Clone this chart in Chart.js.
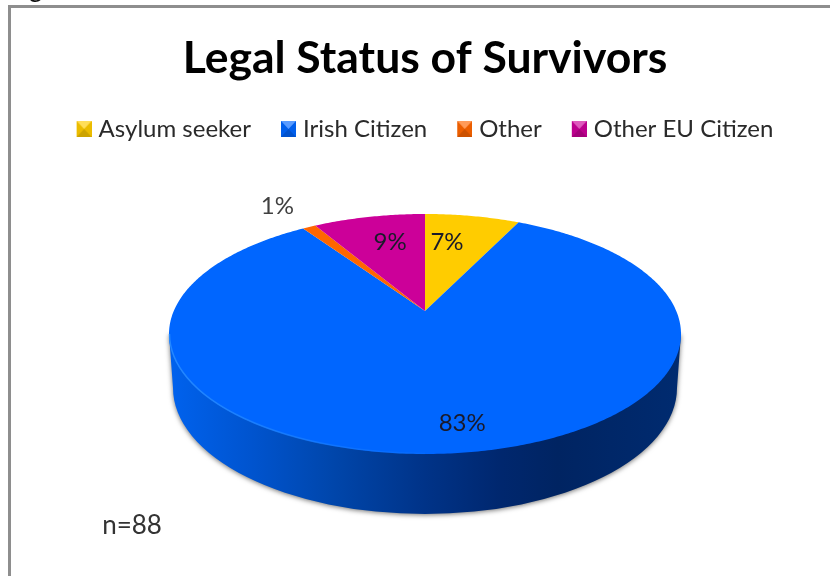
<!DOCTYPE html>
<html>
<head>
<meta charset="utf-8">
<style>
  html, body { margin: 0; padding: 0; background: #fff; overflow: hidden; }
  canvas { display: block; }
</style>
<script src="https://cdn.jsdelivr.net/npm/chart.js@4"></script>
</head>
<body>
<canvas id="pie" width="830" height="576"></canvas>
<script>
// values, the labels round them
const categories = ['Asylum seeker', 'Irish Citizen', 'Other', 'Other EU Citizen'];
const shares = [7.2, 83.3, 1.0, 8.5];
const sliceColors = ['#ffcc00', '#0066ff', '#ff6600', '#cc0099'];
const sampleNote = 'n=88';

// tilted disc: half axes of the top face, and how far the pie centre sits above the face centre
const halfWide = 256, halfHigh = 120, centreLift = -23;
const tilt = centreLift / halfHigh;
const squeezedWide = halfWide * Math.sqrt(1 - tilt * tilt);

// unit circle -> tilted disc (a perspective map, so the tip of the wedges stays off centre)
function project(el, angle, r) {
  const u = r * Math.cos(angle), v = r * Math.sin(angle);
  const d = 1 + tilt * v;
  return { x: el.x + squeezedWide * u / d, y: el.y + (halfHigh * v + centreLift) / d };
}

// 20 wide so the 15px square sits close to the legend text
function bevelMarker(color) {
  const c = document.createElement('canvas');
  c.width = 20; c.height = 16;
  const g = c.getContext('2d');
  g.translate(5, 0);
  g.fillStyle = color;
  g.fillRect(0, 0, 15, 16);
  // top facet light, bottom facet dark
  g.fillStyle = 'rgba(255,255,255,.35)';
  g.beginPath(); g.moveTo(0, 0); g.lineTo(15, 0); g.lineTo(7.5, 8); g.fill();
  g.fillStyle = 'rgba(0,0,0,.2)';
  g.beginPath(); g.moveTo(0, 16); g.lineTo(15, 16); g.lineTo(7.5, 8); g.fill();
  g.fillStyle = 'rgba(0,0,0,.08)';
  g.beginPath(); g.moveTo(0, 0); g.lineTo(0, 16); g.lineTo(7.5, 8); g.moveTo(15, 0); g.lineTo(15, 16); g.lineTo(7.5, 8); g.fill();
  return c;
}

const tiltedPie = {
  id: 'tiltedPie',
  beforeDraw(chart) {
    const ctx = chart.ctx;
    ctx.save();
    ctx.fillStyle = '#fff';
    ctx.fillRect(0, 0, 830, 576);
    // frame of the pasted picture, and the tail of the caption above it
    ctx.fillStyle = '#8e8e8e';
    ctx.fillRect(8, 5, 822, 3);
    ctx.fillRect(8, 5, 3, 571);
    ctx.fillStyle = '#111';
    ctx.font = '26px Lato';
    ctx.textBaseline = 'alphabetic';
    ctx.fillText('Figure', 8, -3);
    ctx.restore();
  },
  beforeDatasetDraw(chart) {
    const ctx = chart.ctx;
    const arcs = chart.getDatasetMeta(0).data;
    const cx = arcs[0].x, cy = arcs[0].y;

    // side wall
    const wall = ctx.createLinearGradient(cx - halfWide, 0, cx + halfWide, 0);
    wall.addColorStop(0, '#0062ee');
    wall.addColorStop(0.16, '#0054cf');
    wall.addColorStop(0.32, '#0046ab');
    wall.addColorStop(0.5, '#003388');
    wall.addColorStop(0.65, '#00276e');
    wall.addColorStop(0.76, '#002462');
    wall.addColorStop(1, '#002b70');
    ctx.save();
    ctx.shadowColor = 'rgba(0,0,0,.55)';
    ctx.shadowBlur = 5;
    ctx.shadowOffsetY = 1;
    ctx.fillStyle = wall;
    ctx.beginPath();
    ctx.moveTo(cx - halfWide, cy);
    ctx.lineTo(cx - halfWide + 4, cy + 54);
    ctx.ellipse(cx, cy + 54, halfWide - 4, halfHigh + 6, 0, Math.PI, 0, true);
    ctx.lineTo(cx + halfWide, cy);
    ctx.closePath();
    ctx.fill();
    ctx.restore();

    // top face, one wedge per arc element
    arcs.forEach((el, i) => {
      ctx.fillStyle = sliceColors[i];
      ctx.beginPath();
      const tip = project(el, 0, 0);
      ctx.moveTo(tip.x, tip.y);
      const steps = Math.max(2, Math.ceil((el.endAngle - el.startAngle) * 90));
      for (let s = 0; s <= steps; s++) {
        const p = project(el, el.startAngle + (el.endAngle - el.startAngle) * s / steps, 1);
        ctx.lineTo(p.x, p.y);
      }
      ctx.closePath();
      ctx.fill();
    });

    // thin light rim on the front left
    const rim = ctx.createLinearGradient(cx - halfWide, 0, cx + 30, 0);
    rim.addColorStop(0, 'rgba(40,140,255,.9)');
    rim.addColorStop(1, 'rgba(40,140,255,0)');
    ctx.strokeStyle = rim;
    ctx.lineWidth = 1.5;
    ctx.beginPath();
    ctx.ellipse(cx, cy, halfWide - 0.5, halfHigh - 0.5, 0, Math.PI, Math.PI / 2, true);
    ctx.stroke();
    return false;
  },
  afterDatasetsDraw(chart) {
    const ctx = chart.ctx;
    const arcs = chart.getDatasetMeta(0).data;
    // radius on the disc and small angle nudge for each percent label
    const spots = [[0.68, -4.6], [0.83, -4.5], [1.31, -0.5], [0.69, 2.2]];
    ctx.save();
    ctx.font = '24px Lato';
    ctx.textAlign = 'center';
    ctx.textBaseline = 'middle';
    arcs.forEach((el, i) => {
      const mid = (el.startAngle + el.endAngle) / 2 + spots[i][1] * Math.PI / 180;
      const p = project(el, mid, spots[i][0]);
      ctx.fillStyle = spots[i][0] > 1 ? '#404040' : '#1a1a2a';
      ctx.fillText(Math.round(shares[i]) + '%', p.x, p.y);
    });
    ctx.fillStyle = '#333';
    ctx.font = '26px Lato';
    ctx.fillText(sampleNote, 132, 526);
    ctx.restore();
  }
};

new Chart(document.getElementById('pie'), {
  type: 'pie',
  data: {
    labels: categories,
    datasets: [{ data: shares, backgroundColor: sliceColors, borderWidth: 0 }]
  },
  plugins: [tiltedPie],
  options: {
    responsive: false,
    animation: false,
    layout: { padding: { left: 20, bottom: 59 } },
    plugins: {
      tooltip: { enabled: false },
      title: {
        display: true,
        text: 'Legal Status of Survivors',
        color: '#000',
        font: { family: 'Lato', size: 44.5, weight: 'bold' },
        padding: { top: 32, bottom: 1.6 }
      },
      legend: {
        position: 'top',
        labels: {
          color: '#2a2a2a',
          font: { family: 'Lato', size: 24 },
          usePointStyle: true,
          pointStyleWidth: 10,
          boxHeight: 15,
          padding: 30,
          generateLabels(chart) {
            return Chart.overrides.pie.plugins.legend.labels.generateLabels(chart).map((item, i) => {
              item.pointStyle = bevelMarker(sliceColors[i]);
              return item;
            });
          }
        }
      }
    }
  }
});
</script>
</body>
</html>
